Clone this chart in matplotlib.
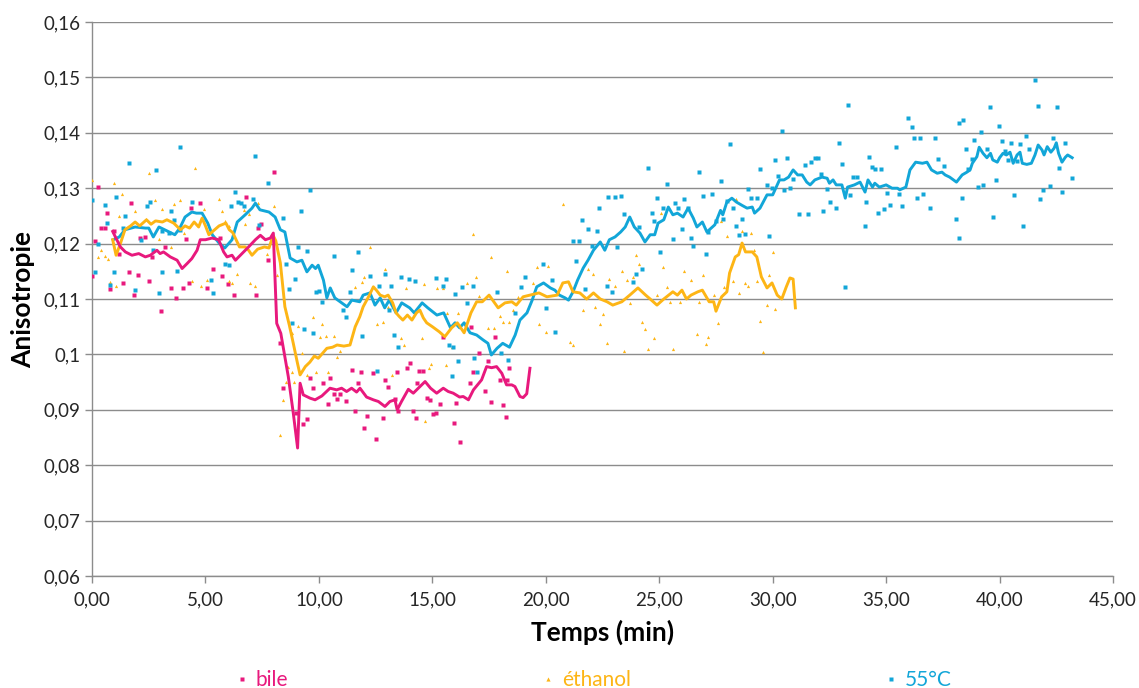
import matplotlib
matplotlib.use("Agg")
import matplotlib.pyplot as plt
from matplotlib.lines import Line2D
from matplotlib.ticker import FuncFormatter, MultipleLocator

# --------- measured anisotropy, three conditions ----------------
bile_t = [0.0, 0.15, 0.26, 0.41, 0.56, 0.66, 0.81, 0.95, 1.18, 1.35, 1.62, 1.73, 1.87, 2.01,
          2.13, 2.35, 2.53, 2.64, 3.06, 3.23, 3.48, 3.72, 4.0, 4.14, 4.26, 4.38, 4.77, 5.07,
          5.32, 5.66, 5.73, 5.99, 6.24, 6.8, 7.21, 7.3, 7.46, 7.76, 8.0, 8.29, 8.4, 8.99,
          9.31, 9.46, 9.61, 9.73, 10.2, 10.42, 10.49, 10.66, 10.81, 10.93, 11.2, 11.44, 11.59,
          11.74, 11.84, 11.99, 12.13, 12.4, 12.52, 12.81, 12.91, 13.06, 13.35, 13.45, 13.5,
          13.87, 14.01, 14.13, 14.27, 14.31, 14.43, 14.6, 14.75, 14.9, 15.04, 15.16, 15.34,
          15.48, 15.95, 16.04, 16.2, 16.66, 16.69, 16.8, 17.07, 17.32, 17.47, 17.58, 17.76,
          17.98, 18.13, 18.25, 18.27, 18.39]
bile_v = [0.1141, 0.1205, 0.1302, 0.1229, 0.1228, 0.1256, 0.1118, 0.1222, 0.1182, 0.1128,
          0.1149, 0.1274, 0.1107, 0.1143, 0.1211, 0.1212, 0.1133, 0.1175, 0.1078, 0.1194,
          0.1119, 0.1101, 0.1119, 0.1209, 0.1128, 0.1264, 0.1273, 0.1119, 0.1154, 0.1211,
          0.1141, 0.1127, 0.1108, 0.1285, 0.1107, 0.1228, 0.1235, 0.1170, 0.1330, 0.1021,
          0.0939, 0.0894, 0.0874, 0.0883, 0.0958, 0.0939, 0.0948, 0.0910, 0.0957, 0.0929,
          0.0919, 0.0929, 0.0915, 0.0972, 0.0898, 0.0949, 0.0969, 0.0868, 0.0888, 0.0967,
          0.0847, 0.0885, 0.0954, 0.0942, 0.0920, 0.0969, 0.0898, 0.0976, 0.0984, 0.0898,
          0.0885, 0.0948, 0.0970, 0.0970, 0.0921, 0.0918, 0.0892, 0.0894, 0.0910, 0.1032,
          0.0876, 0.0913, 0.0842, 0.0948, 0.1049, 0.0969, 0.1002, 0.0934, 0.0988, 0.0914,
          0.1032, 0.0953, 0.0909, 0.0887, 0.0953, 0.0975]

eth_t = [0.0, 0.26, 0.41, 0.56, 0.69, 0.81, 0.95, 1.07, 1.2, 1.32, 1.88, 2.39, 2.53, 2.79,
         2.94, 3.09, 3.48, 3.6, 3.62, 3.89, 4.04, 4.41, 4.52, 4.82, 4.92, 5.07, 5.58, 5.73,
         5.88, 6.02, 6.04, 6.17, 6.39, 6.68, 6.76, 6.93, 6.95, 7.2, 7.32, 7.71, 8.0, 8.15,
         8.29, 8.4, 8.55, 8.65, 8.8, 8.82, 8.9, 9.06, 9.27, 9.46, 9.73, 9.87, 10.05, 10.13,
         10.3, 10.42, 10.66, 10.81, 10.93, 11.59, 11.88, 12.0, 12.25, 12.55, 12.81, 12.91,
         13.06, 13.21, 13.61, 13.75, 13.84, 14.23, 14.53, 14.63, 14.68, 14.87, 14.92, 15.19,
         15.45, 15.6, 15.63, 15.85, 16.14, 16.51, 16.78, 16.93, 17.07, 17.47, 17.58, 17.73,
         17.98, 18.13, 18.28, 18.39, 18.54, 18.79, 19.45, 19.6, 19.71, 19.99, 20.11, 20.77,
         21.07, 21.21, 21.66, 21.88, 22.1, 22.17, 22.39, 22.54, 22.68, 22.8, 23.05, 23.34,
         23.45, 23.56, 23.71, 23.85, 23.97, 24.1, 24.25, 24.39, 24.52, 24.78, 24.91, 25.06,
         25.18, 25.33, 25.47, 25.59, 25.91, 26.11, 26.39, 26.65, 26.77, 26.92, 27.06, 27.17,
         27.43, 27.57, 27.71, 27.86, 27.97, 28.26, 28.38, 28.53, 28.63, 28.78, 28.93, 29.04,
         29.19, 29.29, 29.44, 29.59, 29.73, 29.85, 30.0, 30.1]
eth_v = [0.1314, 0.1175, 0.1188, 0.1178, 0.1172, 0.1130, 0.1310, 0.1124, 0.1250, 0.1290,
         0.1258, 0.1244, 0.1327, 0.1279, 0.1208, 0.1262, 0.1193, 0.1271, 0.1243, 0.1278,
         0.1219, 0.1133, 0.1336, 0.1124, 0.1262, 0.1135, 0.1280, 0.1258, 0.1241, 0.1231,
         0.1132, 0.1128, 0.1146, 0.1260, 0.1235, 0.1253, 0.1128, 0.1124, 0.1274, 0.1182,
         0.1267, 0.1143, 0.0855, 0.0917, 0.0951, 0.0977, 0.0969, 0.1039, 0.0951, 0.1052,
         0.1002, 0.0963, 0.1067, 0.0969, 0.1032, 0.1055, 0.1033, 0.0968, 0.1033, 0.0995,
         0.1007, 0.1121, 0.1130, 0.1140, 0.1193, 0.1055, 0.1058, 0.1154, 0.1086, 0.0962,
         0.1030, 0.1017, 0.1119, 0.1133, 0.1029, 0.1127, 0.0879, 0.0975, 0.0983, 0.1120,
         0.1119, 0.0981, 0.1074, 0.1014, 0.1074, 0.1128, 0.1217, 0.1140, 0.1105, 0.1047,
         0.1175, 0.1047, 0.1069, 0.1059, 0.1151, 0.1059, 0.1081, 0.1104, 0.1128, 0.1158,
         0.1054, 0.1041, 0.1160, 0.1271, 0.1023, 0.1017, 0.1080, 0.1154, 0.1145, 0.1085,
         0.1054, 0.1073, 0.1021, 0.1136, 0.1123, 0.1151, 0.1006, 0.1135, 0.1092, 0.1139,
         0.1179, 0.1164, 0.1059, 0.1045, 0.1010, 0.1029, 0.1108, 0.1256, 0.1157, 0.1121,
         0.1095, 0.1009, 0.1095, 0.1151, 0.1134, 0.1036, 0.1095, 0.1143, 0.1018, 0.1032,
         0.1107, 0.1056, 0.1240, 0.1121, 0.1213, 0.1133, 0.1280, 0.1110, 0.1223, 0.1128,
         0.1123, 0.1219, 0.1188, 0.1133, 0.1060, 0.1005, 0.1090, 0.1143, 0.1185, 0.1082]

hot_t = [0.0, 0.15, 0.26, 0.56, 0.66, 0.81, 0.95, 1.06, 1.35, 1.47, 1.62, 1.88, 2.17, 2.42,
         2.57, 2.69, 2.82, 2.94, 3.09, 3.1, 3.41, 3.48, 3.6, 3.75, 3.86, 3.89, 4.41, 5.23,
         5.33, 5.88, 6.02, 6.14, 6.29, 6.42, 6.58, 6.68, 7.08, 7.2, 7.35, 7.74, 8.4, 8.53,
         8.68, 8.8, 8.95, 9.06, 9.19, 9.34, 9.46, 9.61, 9.75, 9.87, 10.02, 10.13, 10.66,
         11.07, 11.19, 11.37, 11.44, 11.74, 11.88, 12.25, 12.55, 12.66, 12.91, 13.08, 13.18,
         13.33, 13.47, 13.61, 13.99, 14.23, 15.16, 15.45, 15.6, 15.74, 15.85, 15.89, 16.0,
         16.14, 16.29, 16.51, 16.81, 16.85, 16.98, 17.86, 18.01, 18.35, 18.64, 18.89, 19.08,
         19.86, 19.99, 20.26, 20.4, 21.18, 21.32, 21.46, 21.58, 21.72, 21.85, 22.02, 22.24,
         22.36, 22.68, 22.75, 22.93, 23.05, 23.15, 23.31, 23.46, 23.85, 23.97, 24.12, 24.25,
         24.52, 24.66, 24.78, 24.91, 25.03, 25.18, 25.33, 25.59, 25.71, 25.84, 25.99, 26.11,
         26.25, 26.39, 26.5, 26.76, 26.91, 27.06, 27.17, 27.31, 27.5, 27.7, 27.82, 27.97,
         28.12, 28.27, 28.38, 28.5, 28.63, 28.78, 28.92, 29.04, 29.29, 29.44, 29.73, 29.85,
         29.98, 30.1, 30.25, 30.39, 30.51, 30.64, 30.76, 30.91, 31.17, 31.42, 31.57, 31.71,
         31.86, 31.98, 32.11, 32.22, 32.38, 32.52, 32.78, 32.92, 33.04, 33.19, 33.3, 33.4,
         33.55, 33.7, 34.06, 34.1, 34.24, 34.36, 34.51, 34.65, 34.78, 34.9, 35.04, 35.17,
         35.43, 35.58, 35.71, 35.98, 36.13, 36.24, 36.38, 36.49, 36.64, 36.93, 37.17, 37.3,
         37.56, 38.07, 38.2, 38.22, 38.34, 38.37, 38.5, 38.62, 38.77, 38.89, 39.03, 39.18,
         39.28, 39.43, 39.58, 39.7, 39.84, 39.97, 40.09, 40.24, 40.35, 40.5, 40.63, 40.75,
         40.9, 41.03, 41.16, 41.31, 41.56, 41.69, 41.77, 41.92, 42.2, 42.37, 42.51, 42.63,
         42.73, 42.89, 43.18]
hot_v = [0.1279, 0.1149, 0.1199, 0.1270, 0.1237, 0.1125, 0.1149, 0.1285, 0.1229, 0.1249,
         0.1346, 0.1116, 0.1206, 0.1267, 0.1275, 0.1188, 0.1332, 0.1110, 0.1222, 0.1148,
         0.1219, 0.1258, 0.1243, 0.1150, 0.1224, 0.1375, 0.1275, 0.1134, 0.1110, 0.1163,
         0.1162, 0.1267, 0.1294, 0.1276, 0.1273, 0.1267, 0.1281, 0.1359, 0.1233, 0.1309,
         0.1246, 0.1163, 0.1118, 0.1057, 0.1136, 0.1194, 0.1259, 0.1046, 0.1187, 0.1297,
         0.1039, 0.1112, 0.1114, 0.1094, 0.1178, 0.1080, 0.1068, 0.1113, 0.1152, 0.1185,
         0.1034, 0.1142, 0.0970, 0.1123, 0.1145, 0.1081, 0.1124, 0.1035, 0.1014, 0.1139,
         0.1136, 0.1133, 0.1138, 0.1124, 0.1137, 0.1017, 0.0961, 0.1014, 0.1109, 0.0988,
         0.1122, 0.1093, 0.1124, 0.0993, 0.0969, 0.1112, 0.1002, 0.0990, 0.1074, 0.1121,
         0.1140, 0.1163, 0.1084, 0.1135, 0.1041, 0.1204, 0.1169, 0.1205, 0.1243, 0.1118,
         0.1226, 0.1196, 0.1223, 0.1264, 0.1123, 0.1285, 0.1112, 0.1285, 0.1193, 0.1286,
         0.1253, 0.1131, 0.1146, 0.1230, 0.1154, 0.1336, 0.1255, 0.1240, 0.1282, 0.1185,
         0.1264, 0.1308, 0.1208, 0.1273, 0.1265, 0.1226, 0.1280, 0.1264, 0.1211, 0.1196,
         0.1330, 0.1286, 0.1181, 0.1221, 0.1289, 0.1240, 0.1313, 0.1244, 0.1277, 0.1379,
         0.1265, 0.1231, 0.1216, 0.1245, 0.1217, 0.1298, 0.1282, 0.1283, 0.1334, 0.1305,
         0.1214, 0.1301, 0.1351, 0.1322, 0.1404, 0.1296, 0.1355, 0.1301, 0.1316, 0.1253,
         0.1342, 0.1253, 0.1348, 0.1354, 0.1354, 0.1325, 0.1259, 0.1298, 0.1275, 0.1264,
         0.1381, 0.1344, 0.1121, 0.1450, 0.1288, 0.1320, 0.1321, 0.1231, 0.1276, 0.1357,
         0.1339, 0.1334, 0.1256, 0.1334, 0.1263, 0.1292, 0.1270, 0.1374, 0.1290, 0.1268,
         0.1426, 0.1410, 0.1391, 0.1282, 0.1391, 0.1289, 0.1264, 0.1391, 0.1353, 0.1340,
         0.1245, 0.1211, 0.1418, 0.1283, 0.1424, 0.1371, 0.1335, 0.1353, 0.1387, 0.1302,
         0.1401, 0.1305, 0.1370, 0.1447, 0.1248, 0.1315, 0.1412, 0.1385, 0.1368, 0.1351,
         0.1381, 0.1288, 0.1350, 0.1379, 0.1231, 0.1394, 0.1370, 0.1495, 0.1448, 0.1281,
         0.1297, 0.1304, 0.1391, 0.1446, 0.1337, 0.1293, 0.1381, 0.1318]

# --------- moving-average trend curves ----------------
bile_ma_t = [0.91, 1.25, 1.47, 1.76, 2.06, 2.35, 2.57, 2.86, 3.0, 3.15, 3.45, 3.75, 3.97,
             4.19, 4.4, 4.63, 4.77, 5.0, 5.29, 5.58, 5.8, 5.95, 6.17, 6.32, 6.61, 6.9, 7.2,
             7.42, 7.64, 7.86, 7.99, 8.14, 8.32, 8.65, 8.87, 9.06, 9.17, 9.31, 9.61, 9.83,
             10.13, 10.49, 10.78, 11.0, 11.22, 11.44, 11.66, 11.81, 12.1, 12.4, 12.62, 12.91,
             13.13, 13.35, 13.45, 13.64, 13.94, 14.16, 14.38, 14.68, 14.92, 15.19, 15.48,
             15.7, 15.92, 16.2, 16.36, 16.59, 16.81, 17.17, 17.39, 17.61, 17.83, 18.06,
             18.27, 18.5, 18.64, 18.86, 19.0, 19.16, 19.3]
bile_ma_v = [0.1222, 0.1194, 0.1185, 0.1179, 0.1182, 0.1176, 0.1179, 0.1188, 0.1182, 0.1185,
             0.1176, 0.1170, 0.1155, 0.1164, 0.1173, 0.1188, 0.1207, 0.1207, 0.1210, 0.1207,
             0.1185, 0.1176, 0.1179, 0.1170, 0.1182, 0.1194, 0.1207, 0.1215, 0.1207, 0.1210,
             0.1219, 0.1056, 0.1038, 0.0960, 0.0894, 0.0831, 0.0948, 0.0927, 0.0921, 0.0918,
             0.0925, 0.0939, 0.0936, 0.0939, 0.0933, 0.0939, 0.0932, 0.0939, 0.0923, 0.0918,
             0.0915, 0.0906, 0.0915, 0.0918, 0.0900, 0.0915, 0.0937, 0.0930, 0.0939, 0.0951,
             0.0939, 0.0930, 0.0939, 0.0933, 0.0930, 0.0923, 0.0924, 0.0918, 0.0936, 0.0954,
             0.0978, 0.0976, 0.0978, 0.0966, 0.0945, 0.0945, 0.0942, 0.0924, 0.0922, 0.0929,
             0.0975]

eth_ma_t = [0.91, 1.06, 1.25, 1.45, 1.7, 1.9, 2.1, 2.4, 2.6, 2.8, 3.1, 3.3, 3.6, 3.9, 4.1,
            4.3, 4.5, 4.7, 4.85, 5.0, 5.15, 5.4, 5.6, 5.9, 6.05, 6.2, 6.5, 6.75, 6.9, 7.05,
            7.3, 7.6, 7.8, 7.98, 8.1, 8.3, 8.5, 8.7, 8.87, 9.05, 9.17, 9.4, 9.6, 9.8, 9.97,
            10.2, 10.35, 10.6, 10.8, 11.1, 11.37, 11.6, 11.8, 11.95, 12.2, 12.4, 12.55, 12.7,
            12.9, 13.05, 13.25, 13.4, 13.55, 13.7, 13.9, 14.1, 14.3, 14.45, 14.6, 14.75, 15.0,
            15.3, 15.55, 15.85, 16.1, 16.4, 16.7, 16.95, 17.2, 17.5, 17.9, 18.2, 18.5, 18.7,
            19.0, 19.3, 19.7, 20.05, 20.5, 20.75, 21.0, 21.2, 21.5, 21.8, 22.1, 22.4, 22.7,
            22.95, 23.35, 23.7, 24.06, 24.4, 24.6, 24.9, 25.2, 25.6, 25.8, 26.0, 26.2, 26.4,
            26.7, 26.9, 27.2, 27.4, 27.5, 27.75, 27.98, 28.1, 28.35, 28.5, 28.65, 28.8, 29.1,
            29.3, 29.5, 29.75, 29.97, 30.2, 30.4, 30.6, 30.76, 30.9, 31.0]
eth_ma_v = [0.1207, 0.1179, 0.1200, 0.1225, 0.1232, 0.1239, 0.1232, 0.1243, 0.1235, 0.1241,
            0.1239, 0.1243, 0.1237, 0.1225, 0.1232, 0.1228, 0.1239, 0.1230, 0.1246, 0.1232,
            0.1216, 0.1225, 0.1232, 0.1237, 0.1225, 0.1220, 0.1194, 0.1194, 0.1188, 0.1179,
            0.1190, 0.1194, 0.1192, 0.1215, 0.1205, 0.1165, 0.1086, 0.1052, 0.1020, 0.0985,
            0.0963, 0.0978, 0.0986, 0.0997, 0.0993, 0.1004, 0.1011, 0.1013, 0.1017, 0.1015,
            0.1017, 0.1050, 0.1068, 0.1086, 0.1105, 0.1122, 0.1115, 0.1107, 0.1104, 0.1107,
            0.1093, 0.1075, 0.1068, 0.1062, 0.1071, 0.1062, 0.1075, 0.1080, 0.1066, 0.1057,
            0.1050, 0.1041, 0.1032, 0.1048, 0.1057, 0.1039, 0.1075, 0.1095, 0.1095, 0.1107,
            0.1084, 0.1093, 0.1095, 0.1089, 0.1104, 0.1107, 0.1111, 0.1104, 0.1107, 0.1129,
            0.1131, 0.1113, 0.1111, 0.1100, 0.1111, 0.1100, 0.1095, 0.1089, 0.1095, 0.1107,
            0.1120, 0.1107, 0.1100, 0.1089, 0.1100, 0.1113, 0.1107, 0.1116, 0.1100, 0.1107,
            0.1113, 0.1116, 0.1095, 0.1095, 0.1078, 0.1104, 0.1113, 0.1147, 0.1176, 0.1180,
            0.1201, 0.1185, 0.1185, 0.1176, 0.1140, 0.1120, 0.1129, 0.1107, 0.1100, 0.1122,
            0.1138, 0.1136, 0.1084]

hot_ma_t = [0.93, 1.2, 1.45, 1.9, 2.35, 2.5, 2.7, 2.95, 3.2, 3.65, 3.87, 4.1, 4.4, 4.6, 4.85,
            5.1, 5.3, 5.6, 5.85, 6.17, 6.4, 6.75, 7.05, 7.2, 7.4, 7.8, 8.07, 8.3, 8.5, 8.73,
            9.03, 9.25, 9.47, 9.7, 9.85, 9.97, 10.2, 10.35, 10.5, 10.7, 11.0, 11.24, 11.45,
            11.8, 11.95, 12.25, 12.47, 12.7, 12.9, 13.1, 13.4, 13.65, 14.0, 14.2, 14.55, 14.8,
            15.2, 15.5, 15.8, 16.0, 16.2, 16.4, 16.66, 16.95, 17.24, 17.45, 17.6, 17.85, 18.1,
            18.4, 18.65, 18.86, 19.17, 19.4, 19.6, 19.9, 20.2, 20.4, 20.6, 20.85, 21.0, 21.2,
            21.4, 21.65, 21.86, 22.1, 22.4, 22.6, 22.8, 23.05, 23.3, 23.5, 23.7, 23.9, 24.15,
            24.37, 24.6, 24.8, 24.95, 25.2, 25.4, 25.6, 25.8, 26.05, 26.27, 26.5, 26.66, 26.9,
            27.1, 27.45, 27.7, 27.8, 27.98, 28.2, 28.4, 28.65, 28.87, 29.1, 29.2, 29.44, 29.75,
            30.0, 30.3, 30.5, 30.7, 30.9, 31.1, 31.3, 31.5, 31.65, 31.86, 32.17, 32.4, 32.5,
            32.66, 32.8, 33.05, 33.2, 33.3, 33.6, 33.85, 34.07, 34.2, 34.4, 34.5, 34.7, 35.0,
            35.26, 35.5, 35.6, 35.87, 36.05, 36.3, 36.6, 36.8, 37.0, 37.25, 37.46, 37.6, 37.8,
            38.1, 38.35, 38.56, 38.7, 38.8, 39.0, 39.1, 39.27, 39.44, 39.6, 39.7, 39.9, 40.0,
            40.15, 40.3, 40.46, 40.6, 40.77, 40.9, 41.0, 41.2, 41.4, 41.56, 41.7, 41.87, 41.96,
            42.1, 42.26, 42.4, 42.5, 42.6, 42.75, 42.9, 43.0, 43.2]
hot_ma_v = [0.1207, 0.1212, 0.1225, 0.1230, 0.1228, 0.1228, 0.1212, 0.1230, 0.1225, 0.1216,
            0.1228, 0.1248, 0.1257, 0.1255, 0.1255, 0.1237, 0.1216, 0.1201, 0.1192, 0.1207,
            0.1239, 0.1252, 0.1264, 0.1273, 0.1261, 0.1257, 0.1248, 0.1225, 0.1221, 0.1174,
            0.1167, 0.1170, 0.1149, 0.1161, 0.1155, 0.1161, 0.1134, 0.1102, 0.1120, 0.1102,
            0.1093, 0.1086, 0.1098, 0.1095, 0.1107, 0.1111, 0.1089, 0.1102, 0.1084, 0.1098,
            0.1075, 0.1093, 0.1084, 0.1075, 0.1093, 0.1084, 0.1071, 0.1075, 0.1048, 0.1057,
            0.1048, 0.1057, 0.1039, 0.1035, 0.1026, 0.1020, 0.0999, 0.1011, 0.1020, 0.1013,
            0.1035, 0.1062, 0.1075, 0.1098, 0.1122, 0.1129, 0.1120, 0.1116, 0.1107, 0.1102,
            0.1098, 0.1113, 0.1134, 0.1156, 0.1170, 0.1188, 0.1203, 0.1188, 0.1207, 0.1212,
            0.1221, 0.1230, 0.1248, 0.1230, 0.1219, 0.1203, 0.1216, 0.1216, 0.1237, 0.1243,
            0.1266, 0.1252, 0.1255, 0.1248, 0.1264, 0.1246, 0.1230, 0.1239, 0.1221, 0.1234,
            0.1260, 0.1252, 0.1275, 0.1282, 0.1275, 0.1269, 0.1264, 0.1266, 0.1255, 0.1264,
            0.1288, 0.1288, 0.1315, 0.1315, 0.1320, 0.1333, 0.1324, 0.1324, 0.1311, 0.1306,
            0.1315, 0.1320, 0.1318, 0.1309, 0.1315, 0.1306, 0.1306, 0.1282, 0.1302, 0.1306,
            0.1311, 0.1293, 0.1315, 0.1302, 0.1309, 0.1302, 0.1306, 0.1300, 0.1300, 0.1297,
            0.1302, 0.1333, 0.1347, 0.1345, 0.1347, 0.1333, 0.1327, 0.1329, 0.1324, 0.1320,
            0.1311, 0.1324, 0.1329, 0.1333, 0.1345, 0.1357, 0.1374, 0.1363, 0.1355, 0.1363,
            0.1351, 0.1347, 0.1355, 0.1363, 0.1360, 0.1365, 0.1345, 0.1360, 0.1365, 0.1345,
            0.1343, 0.1345, 0.1360, 0.1378, 0.1369, 0.1360, 0.1375, 0.1365, 0.1372, 0.1382,
            0.1363, 0.1347, 0.1356, 0.1360, 0.1355]

labels = ["bile", "éthanol", "55°C"]
colors = ["#E8197D", "#FDB515", "#12A6D8"]
markers = ["s", "^", "s"]

FONT = ["Lato", "DejaVu Sans"]
GRID = "#8C8C8C"


def comma(fmt):
    return FuncFormatter(lambda v, _: fmt(v).replace(".", ","))


def main():
    plt.rcParams["font.family"] = FONT
    fig = plt.figure(figsize=(11.39, 6.88), dpi=100)
    ax = fig.add_axes([0.0808, 0.1628, 0.8964, 0.8052])

    series = [(bile_t, bile_v, bile_ma_t, bile_ma_v),
              (eth_t, eth_v, eth_ma_t, eth_ma_v),
              (hot_t, hot_v, hot_ma_t, hot_ma_v)]

    # raw points first, trend curves on top
    for (t, v, _, _), c, m in zip(series, colors, markers):
        ax.plot(t, v, ls="none", marker=m, ms=2.3, mfc=c, mec="none", zorder=3)
    for (_, _, mt, mv), c, z in zip(series, colors, [6, 5, 4]):
        ax.plot(mt, mv, color=c, lw=2.1, zorder=z, solid_joinstyle="round")

    ax.set_xlim(0, 45)
    ax.set_ylim(0.06, 0.16)
    ax.xaxis.set_major_locator(MultipleLocator(5))
    ax.yaxis.set_major_locator(MultipleLocator(0.01))
    ax.xaxis.set_major_formatter(comma(lambda v: f"{v:.2f}"))
    ax.yaxis.set_major_formatter(comma(lambda v: f"{round(v, 2):g}"))

    ax.grid(axis="y", color=GRID, lw=1.0)
    ax.set_axisbelow(True)
    for s in ("top", "right"):
        ax.spines[s].set_visible(False)
    for s in ("left", "bottom"):
        ax.spines[s].set_color(GRID)
        ax.spines[s].set_linewidth(1.0)
    ax.tick_params(axis="both", colors=GRID, length=5, width=1.0, labelsize=13.5,
                   labelcolor="#262626")
    ax.tick_params(axis="x", pad=6)

    ax.set_xlabel("Temps (min)", fontsize=19, fontweight="bold", labelpad=8)
    ax.set_ylabel("Anisotropie", fontsize=19, fontweight="bold", labelpad=6)

    handles = [Line2D([], [], ls="none", marker=m, ms=3, mfc=c, mec="none")
               for c, m in zip(colors, markers)]
    leg = fig.legend(handles, labels, loc="lower center", bbox_to_anchor=(0.521, -0.03),
                     ncol=3, frameon=False, fontsize=15, handlelength=0.6,
                     handletextpad=0.35, columnspacing=12.2)
    for txt, c in zip(leg.get_texts(), colors):
        txt.set_color(c)

    fig.savefig("out.png", dpi=100)


if __name__ == "__main__":
    main()
